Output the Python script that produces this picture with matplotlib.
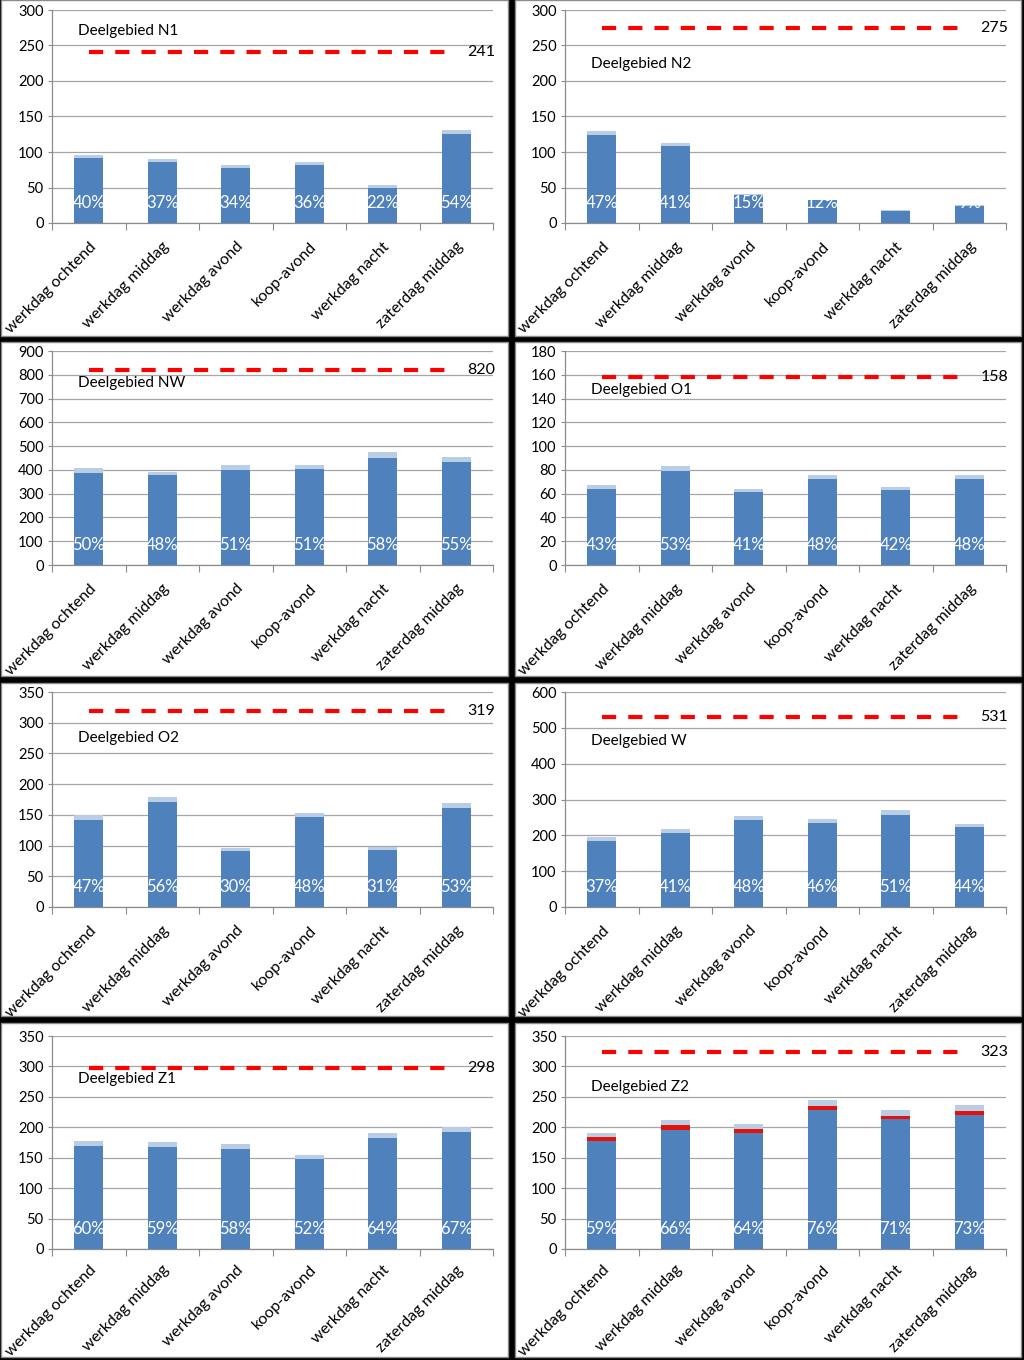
import matplotlib
matplotlib.use('Agg')
import matplotlib.pyplot as plt
from matplotlib.patches import Rectangle
from matplotlib.transforms import blended_transform_factory

plt.rcParams['font.family'] = ['Lato', 'DejaVu Sans']

# ---------------- data ----------------
categories = ['werkdag ochtend', 'werkdag middag', 'werkdag avond',
              'koop-avond', 'werkdag nacht', 'zaterdag middag']

titles = ['Deelgebied N1', 'Deelgebied N2', 'Deelgebied NW', 'Deelgebied O1',
          'Deelgebied O2', 'Deelgebied W', 'Deelgebied Z1', 'Deelgebied Z2']
capacity = [241, 275, 820, 158, 319, 531, 298, 323]
ymax = [300, 300, 900, 180, 350, 600, 350, 350]
ystep = [50, 50, 100, 20, 50, 100, 50, 50]

n1_base = [91, 86, 78, 82, 50, 125]
n1_top = [5, 4, 4, 4, 4, 6]
n1_pct = ['40%', '37%', '34%', '36%', '22%', '54%']

n2_base = [124, 109, 39, 32, 17, 24]
n2_top = [6, 4, 2, 1, 1, 2]
n2_pct = ['47%', '41%', '15%', '12%', '6%', '9%']

nw_base = [388, 377, 398, 402, 450, 433]
nw_top = [21, 16, 21, 20, 27, 21]
nw_pct = ['50%', '48%', '51%', '51%', '58%', '55%']

o1_base = [64, 79, 61, 72, 63, 72]
o1_top = [3, 4, 3, 4, 3, 4]
o1_pct = ['43%', '53%', '41%', '48%', '42%', '48%']

o2_base = [142, 171, 91, 146, 92, 161]
o2_top = [7, 8, 5, 7, 6, 8]
o2_pct = ['47%', '56%', '30%', '48%', '31%', '53%']

w_base = [185, 206, 242, 234, 257, 222]
w_top = [10, 11, 12, 11, 13, 11]
w_pct = ['37%', '41%', '48%', '46%', '51%', '44%']

z1_base = [170, 168, 165, 148, 183, 192]
z1_top = [8, 8, 8, 7, 8, 8]
z1_pct = ['60%', '59%', '58%', '52%', '64%', '67%']

z2_base = [177, 196, 190, 228, 213, 220]
z2_red = [7, 7, 7, 7, 5, 7]
z2_top = [7, 9, 9, 10, 11, 10]
z2_pct = ['59%', '66%', '64%', '76%', '71%', '73%']

bases = [n1_base, n2_base, nw_base, o1_base, o2_base, w_base, z1_base, z2_base]
tops = [n1_top, n2_top, nw_top, o1_top, o2_top, w_top, z1_top, z2_top]
pcts = [n1_pct, n2_pct, nw_pct, o1_pct, o2_pct, w_pct, z1_pct, z2_pct]
reds = [None] * 7 + [z2_red]

# ---------------- layout (pixels) ----------------
W, H = 1024, 1360
col_px = [(1, 508), (515, 1021)]
row_px = [(0, 336), (342, 676), (683, 1016), (1023, 1357)]
ax_cols = [(52, 493), (565, 1006)]
ax_rows = [(10, 223), (351, 565), (692, 907), (1036, 1249)]
label_pad = [12, 12, 12, 10]
title_y = [0.90, 0.745, 0.85, 0.82, 0.785, 0.77, 0.80, 0.76]

DARK = '#4F81BD'
LIGHT = '#B9CDE5'
RED = '#FF0000'
GRID = '#A6A6A6'

fig = plt.figure(figsize=(W / 100, H / 100), dpi=100, facecolor='black')

for i in range(8):
    r, c = divmod(i, 2)
    px0, px1 = col_px[c]
    py0, py1 = row_px[r]
    fig.patches.append(Rectangle((px0 / W, 1 - py1 / H), (px1 - px0) / W, (py1 - py0) / H,
                                 transform=fig.transFigure, facecolor='white',
                                 edgecolor='#8C8C8C', linewidth=1.0, zorder=-5))
    ax0, ax1 = ax_cols[c]
    ay0, ay1 = ax_rows[r]
    ax = fig.add_axes([ax0 / W, 1 - ay1 / H, (ax1 - ax0) / W, (ay1 - ay0) / H])
    ax.set_facecolor('none')

    x = list(range(len(categories)))
    base = bases[i]
    ax.bar(x, base, width=0.4, color=DARK, zorder=3)
    bottom = list(base)
    if reds[i] is not None:
        ax.bar(x, reds[i], width=0.4, bottom=bottom, color='#E3120B', zorder=3)
        bottom = [b + rr for b, rr in zip(bottom, reds[i])]
    ax.bar(x, tops[i], width=0.4, bottom=bottom, color=LIGHT, zorder=3)

    # capacity line
    ax.plot([0, 5], [capacity[i], capacity[i]], color=RED, lw=3,
            ls=(0, (3.4, 2.9)), zorder=4)
    ax.text(5.15, capacity[i], str(capacity[i]), ha='left', va='center',
            fontsize=11.5, color='black', zorder=5)

    # percentage labels (inside base)
    tr = blended_transform_factory(ax.transData, ax.transAxes)
    for xi, p in zip(x, pcts[i]):
        ax.text(xi, 0.095, p, transform=tr, ha='center', va='center',
                fontsize=12, color='white', zorder=6)

    ax.text(0.06, title_y[i], titles[i], transform=ax.transAxes, ha='left',
            va='center', fontsize=11, color='black', zorder=5)

    ax.set_xlim(-0.5, 5.5)
    ax.set_ylim(0, ymax[i])
    ax.set_yticks(list(range(0, ymax[i] + 1, ystep[i])))
    ax.grid(axis='y', color=GRID, lw=0.9, zorder=1)
    ax.set_axisbelow(True)
    for s in ['top', 'right']:
        ax.spines[s].set_visible(False)
    for s in ['left', 'bottom']:
        ax.spines[s].set_color('#8C8C8C')
        ax.spines[s].set_linewidth(0.9)
    ax.tick_params(axis='y', direction='out', length=3, color='#8C8C8C',
                   labelsize=10.5, labelcolor='black', pad=3)
    ax.set_xticks([k - 0.5 for k in range(7)])
    ax.set_xticklabels([])
    ax.tick_params(axis='x', which='major', direction='out', length=5, color='#8C8C8C')
    ax.set_xticks(x, minor=True)
    ax.set_xticklabels(categories, minor=True, rotation=45, ha='right', va='top',
                       rotation_mode='anchor', fontsize=11.5)
    ax.tick_params(axis='x', which='minor', length=0, pad=label_pad[r])

fig.savefig('out.png', dpi=100, facecolor='black')
